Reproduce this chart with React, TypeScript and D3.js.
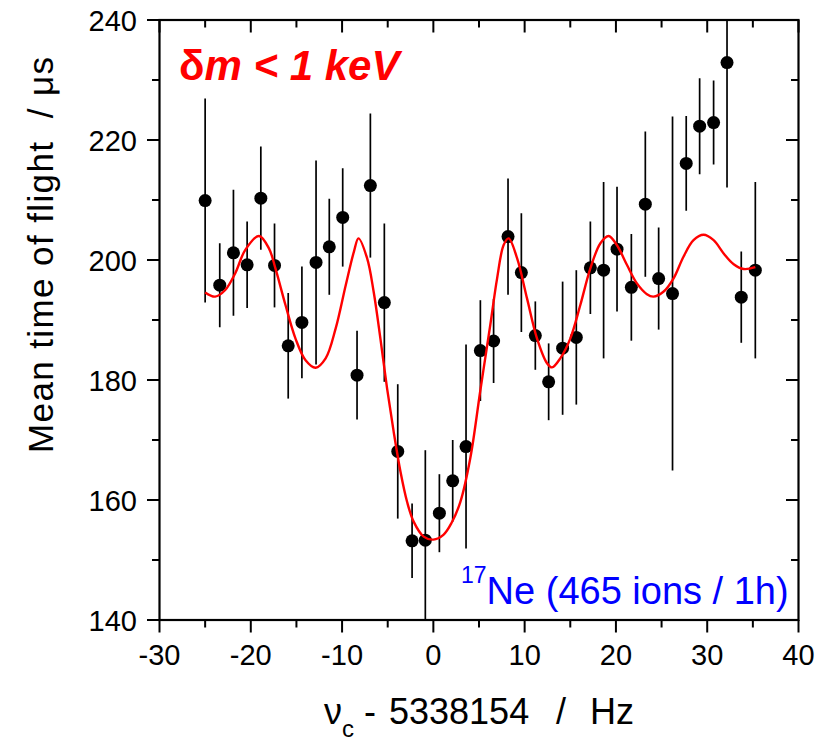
import React from "react";
import * as d3 from "d3";

// ---- data ----
const freq = [-25.0, -23.4, -21.9, -20.4, -18.9, -17.4, -15.9, -14.4, -12.85, -11.4, -9.93, -8.36, -6.9, -5.37, -3.9, -2.33, -0.88, 0.66, 2.12, 3.58, 5.15, 6.6, 8.18, 9.64, 11.17, 12.63, 14.16, 15.66, 17.2, 18.65, 20.12, 21.69, 23.22, 24.68, 26.2, 27.7, 29.17, 30.7, 32.17, 33.73, 35.27];
const tof = [209.9, 195.8, 201.2, 199.2, 210.3, 199.1, 185.7, 189.6, 199.6, 202.2, 207.1, 180.8, 212.4, 192.9, 168.1, 153.2, 153.3, 157.8, 163.2, 168.9, 184.9, 186.5, 203.9, 197.9, 187.4, 179.7, 185.3, 187.1, 198.7, 198.3, 201.8, 195.45, 209.3, 196.9, 194.4, 216.1, 222.3, 222.9, 232.9, 193.8, 198.3];
const tofErr = [17, 7, 10.5, 7.2, 8.6, 7, 8.8, 9.3, 17, 8, 8.2, 7.4, 12, 13.2, 11.2, 6.2, 15, 6.5, 6.8, 17, 8.4, 7, 9.7, 9.9, 5.7, 6.4, 11.1, 11.2, 7.7, 14.7, 10.4, 8.9, 12.1, 8.5, 29.5, 7.9, 8, 7, 20.8, 7.6, 14.7];

const fitX = [-25.0, -23.9, -22.8, -21.7, -20.6, -19.1, -18.0, -17.3, -16.2, -15.1, -14.0, -12.9, -11.8, -10.7, -9.6, -8.7, -8.2, -7.26, -6.54, -5.8, -5.07, -4.35, -3.6, -2.88, -2.16, -1.06, 0.0, 1.1, 2.0, 2.96, 4.05, 5.15, 6.24, 6.98, 7.7, 8.25, 9.17, 10.26, 11.36, 12.45, 13.0, 13.9, 15.0, 16.1, 17.2, 18.3, 19.2, 20.1, 21.2, 22.3, 23.4, 24.1, 25.2, 26.3, 27.4, 28.5, 29.6, 30.7, 31.8, 32.9, 34.0, 35.27];
const fitY = [194.6, 193.9, 195.0, 197.8, 201.7, 204.0, 201.9, 198.6, 192.5, 186.9, 183.3, 182.05, 183.6, 188.6, 195.8, 201.4, 203.6, 200.3, 194.7, 186.9, 178.6, 171.4, 164.7, 159.7, 156.4, 153.9, 153.4, 154.2, 156.2, 159.7, 167.0, 178.3, 189.2, 196.9, 202.5, 203.6, 200.3, 193.6, 186.9, 182.8, 182.1, 183.6, 186.9, 192.5, 198.6, 202.8, 204.0, 202.5, 199.2, 196.1, 194.3, 193.9, 194.7, 196.9, 200.55, 203.3, 204.2, 203.3, 201.1, 199.3, 198.5, 198.8];

const xTicks = [-30, -20, -10, 0, 10, 20, 30, 40];
const xMinor = [-25, -15, -5, 5, 15, 25, 35];
const yTicks = [140, 160, 180, 200, 220, 240];
const yMinor = [150, 170, 190, 210, 230];

const W = 823, H = 745;
const L = 159.5, R = 798.5, T = 20, B = 620;
const FONT = "'Liberation Sans', Arial, Helvetica, sans-serif";

export default function App() {
  const x = d3.scaleLinear().domain([-30, 40]).range([L, R]);
  const y = d3.scaleLinear().domain([140, 240]).range([B, T]);
  const line = d3
    .line<number>()
    .x((_, i) => x(fitX[i]))
    .y((d) => y(d))
    .curve(d3.curveCatmullRom.alpha(0.5));

  const major = 12.5, minor = 7.5;
  return (
    <svg width={W} height={H} style={{ position: "absolute", left: 0, top: 0, background: "#fff" }} fontFamily={FONT}>
      <defs>
        <clipPath id="plotclip">
          <rect x={L} y={T} width={R - L} height={B - T} />
        </clipPath>
      </defs>

      {/* error bars */}
      <g clipPath="url(#plotclip)" stroke="#000" strokeWidth={1.7}>
        {freq.map((f, i) => (
          <line key={i} x1={x(f)} x2={x(f)} y1={y(tof[i] - tofErr[i])} y2={y(tof[i] + tofErr[i])} />
        ))}
      </g>
      {/* points */}
      <g fill="#000">
        {freq.map((f, i) => (
          <circle key={i} cx={x(f)} cy={y(tof[i])} r={6.5} />
        ))}
      </g>
      {/* fit */}
      <path d={line(fitY) || ""} fill="none" stroke="#ff0000" strokeWidth={2.4} clipPath="url(#plotclip)" />

      {/* frame */}
      <rect x={L} y={T} width={R - L} height={B - T} fill="none" stroke="#000" strokeWidth={2.2} />
      <g stroke="#000" strokeWidth={2}>
        {xTicks.map((t) => (
          <g key={"xt" + t}>
            <line x1={x(t)} x2={x(t)} y1={B} y2={B + major} />
            <line x1={x(t)} x2={x(t)} y1={T} y2={T + major} />
          </g>
        ))}
        {xMinor.map((t) => (
          <g key={"xm" + t}>
            <line x1={x(t)} x2={x(t)} y1={B} y2={B + minor} />
            <line x1={x(t)} x2={x(t)} y1={T} y2={T + minor} />
          </g>
        ))}
        {yTicks.map((t) => (
          <g key={"yt" + t}>
            <line x1={L - major} x2={L} y1={y(t)} y2={y(t)} />
            <line x1={R - major} x2={R} y1={y(t)} y2={y(t)} />
          </g>
        ))}
        {yMinor.map((t) => (
          <g key={"ym" + t}>
            <line x1={L - minor} x2={L} y1={y(t)} y2={y(t)} />
            <line x1={R - minor} x2={R} y1={y(t)} y2={y(t)} />
          </g>
        ))}
      </g>

      {/* tick labels */}
      <g fontSize={29} fill="#000">
        {xTicks.map((t) => (
          <text key={"xl" + t} x={x(t)} y={665} textAnchor="middle">{t}</text>
        ))}
        {yTicks.map((t) => (
          <text key={"yl" + t} x={137} y={y(t) + 10.5} textAnchor="end">{t}</text>
        ))}
      </g>

      {/* axis titles */}
      <text y={724} fontSize={36} fill="#000" style={{ whiteSpace: "pre" }}>
        <tspan x={324}>ν</tspan>
        <tspan fontSize={24} dy={13}>c</tspan>
        <tspan x={364} dy={-13}>-</tspan>
        <tspan x={389}>5338154</tspan>
        <tspan x={556}>/</tspan>
        <tspan x={590}>Hz</tspan>
      </text>
      <text
        transform="translate(53,255) rotate(-90)"
        textAnchor="middle"
        fontSize={35}
        fill="#000"
        textLength={396}
        lengthAdjust="spacing"
        style={{ whiteSpace: "pre" }}
      >
        {"Mean time of flight  / μs"}
      </text>

      {/* annotations */}
      <text x={179} y={80} fontSize={42} fill="#ff0000" fontWeight="bold" fontStyle="italic">
        <tspan fontStyle="normal">δ</tspan>
        <tspan>m &lt; 1 keV</tspan>
      </text>
      <text x={461} y={604} fontSize={38} fill="#0000ff">
        <tspan fontSize={23} dy={-21}>17</tspan>
        <tspan dy={21}>Ne (465 ions / 1h)</tspan>
      </text>
    </svg>
  );
}
